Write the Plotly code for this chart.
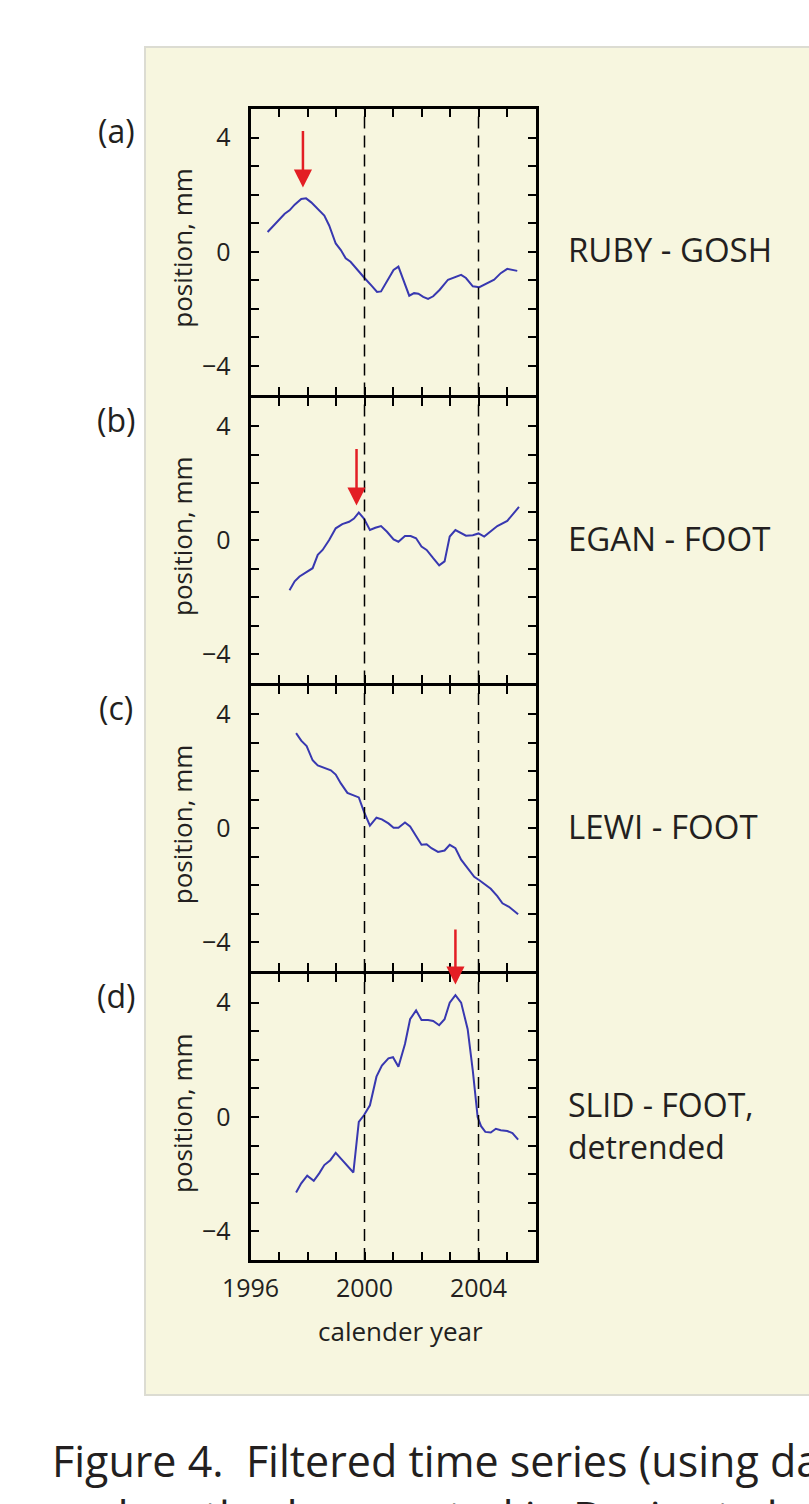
import plotly.graph_objects as go

W, H = 809, 1504

# ---------------- data ----------------
years_a = [1996.60, 1996.91, 1997.20, 1997.37, 1997.55, 1997.78, 1997.95, 1998.13, 1998.36, 1998.59,
           1998.76, 1998.99, 1999.17, 1999.34, 1999.51, 1999.75, 2000.00, 2000.27, 2000.44, 2000.58,
           2000.84, 2001.02, 2001.19, 2001.37, 2001.57, 2001.74, 2001.89, 2002.06, 2002.23, 2002.41,
           2002.64, 2002.93, 2003.16, 2003.39, 2003.56, 2003.80, 2004.03, 2004.26, 2004.55, 2004.78,
           2005.01, 2005.36]
pos_a = [0.69, 1.01, 1.33, 1.45, 1.65, 1.85, 1.87, 1.73, 1.50, 1.27,
         0.92, 0.29, 0.06, -0.23, -0.35, -0.64, -0.92, -1.21, -1.41, -1.39,
         -0.92, -0.64, -0.52, -1.04, -1.54, -1.45, -1.47, -1.58, -1.65, -1.56,
         -1.33, -0.98, -0.89, -0.81, -0.92, -1.21, -1.24, -1.12, -0.98, -0.75,
         -0.60, -0.67]

years_b = [1997.37, 1997.55, 1997.72, 1997.95, 1998.18, 1998.36, 1998.53, 1998.76, 1998.99, 1999.22,
           1999.46, 1999.63, 1999.80, 1999.98, 2000.19, 2000.38, 2000.58, 2000.79, 2001.02, 2001.19,
           2001.42, 2001.62, 2001.81, 2002.00, 2002.18, 2002.41, 2002.62, 2002.81, 2002.99, 2003.19,
           2003.39, 2003.56, 2003.80, 2004.00, 2004.20, 2004.43, 2004.66, 2005.01, 2005.42]
pos_b = [-1.76, -1.45, -1.28, -1.14, -0.99, -0.52, -0.35, 0.00, 0.41, 0.56,
         0.64, 0.75, 0.96, 0.75, 0.35, 0.43, 0.49, 0.29, 0.02, -0.06,
         0.14, 0.14, 0.06, -0.23, -0.35, -0.64, -0.89, -0.75, 0.12, 0.35,
         0.23, 0.15, 0.17, 0.23, 0.12, 0.29, 0.49, 0.67, 1.16]

years_c = [1997.60, 1997.78, 1997.97, 1998.18, 1998.36, 1998.59, 1998.82, 1998.99, 1999.17, 1999.40,
           1999.61, 1999.80, 1999.98, 2000.19, 2000.42, 2000.61, 2000.84, 2001.02, 2001.19, 2001.42,
           2001.60, 2001.81, 2002.00, 2002.18, 2002.35, 2002.58, 2002.81, 2002.99, 2003.19, 2003.39,
           2003.62, 2003.85, 2004.03, 2004.20, 2004.43, 2004.66, 2004.84, 2005.07, 2005.39]
pos_c = [3.33, 3.07, 2.88, 2.38, 2.20, 2.12, 2.03, 1.88, 1.57, 1.24,
         1.16, 1.08, 0.58, 0.09, 0.37, 0.31, 0.17, 0.02, 0.02, 0.20,
         0.06, -0.29, -0.58, -0.56, -0.70, -0.83, -0.78, -0.58, -0.70, -1.10,
         -1.39, -1.70, -1.82, -1.94, -2.12, -2.38, -2.63, -2.75, -3.01]

years_d = [1997.60, 1997.78, 1997.99, 1998.22, 1998.41, 1998.59, 1998.80, 1998.99, 1999.22, 1999.40,
           1999.61, 1999.80, 1999.98, 2000.19, 2000.42, 2000.61, 2000.84, 2001.00, 2001.19, 2001.42,
           2001.60, 2001.81, 2002.00, 2002.23, 2002.41, 2002.62, 2002.81, 2002.99, 2003.19, 2003.39,
           2003.62, 2003.80, 2003.97, 2004.09, 2004.24, 2004.43, 2004.61, 2004.78, 2005.01, 2005.19,
           2005.39]
pos_d = [-2.64, -2.32, -2.05, -2.23, -1.97, -1.68, -1.51, -1.25, -1.51, -1.70,
         -1.94, -0.17, 0.06, 0.41, 1.41, 1.80, 2.05, 2.09, 1.76, 2.55,
         3.42, 3.73, 3.39, 3.39, 3.36, 3.21, 3.42, 4.00, 4.26, 4.00,
         3.07, 1.62, 0.00, -0.32, -0.52, -0.54, -0.41, -0.46, -0.49, -0.56,
         -0.79]

series_years = [years_a, years_b, years_c, years_d]
series_pos = [pos_a, pos_b, pos_c, pos_d]

panel_tags = ["(a)", "(b)", "(c)", "(d)"]
pair_labels = ["RUBY - GOSH", "EGAN - FOOT", "LEWI - FOOT", "SLID - FOOT,<br>detrended"]
event_years = [2000, 2004]
# red arrows: panel index, year, tail value, tip value
arrow_panel = [0, 1, 3]
arrow_year = [1997.84, 1999.72, 2003.19]
arrow_tail = [4.28, 3.25, 6.61]
arrow_tip = [2.25, 1.21, 4.63]

x_ticks = [1996, 2000, 2004]
y_ticks = [-4, 0, 4]
x_title = "calender year"
y_title = "position, mm"
caption_1 = "Figure 4.  Filtered time series (using data"
caption_2 = "and method presented in Davis et al."

# ---------------- layout ----------------
FONT = "Open Sans, Noto Sans, sans-serif"
TXT = "#231f20"
BG = "#f7f6df"
LINE = "#3838b0"
LW = 3  # frame line width


def py(p):
    return 1 - p / H


def px(p):
    return p / W


x0, x1 = 249, 537
frame_lines = [107.5, 396.0, 684.0, 972.5, 1261.5]   # pixel centres of the horizontal frame lines
label_shift = [-2, -2, -2, 8]

fig = go.Figure()
layout = dict(
    width=W, height=H, autosize=False, margin=dict(l=0, r=0, t=0, b=0, pad=0),
    paper_bgcolor="white", plot_bgcolor=BG, showlegend=False,
    font=dict(family=FONT, color=TXT),
)

annotations = []
shapes = [dict(type="rect", xref="paper", yref="paper", layer="below",
               x0=px(145), x1=1.05, y0=py(1395), y1=py(47),
               fillcolor=BG, line=dict(color="#dcdcd2", width=2))]


def label(text, x, y, size, xanchor="center", yanchor="middle", angle=0, align="center"):
    return dict(text=text, xref="paper", yref="paper", x=px(x), y=py(y),
                xanchor=xanchor, yanchor=yanchor, textangle=angle, align=align,
                showarrow=False, font=dict(size=size))


for i in range(4):
    n = "" if i == 0 else str(i + 1)
    xa, ya = "x" + n, "y" + n
    fig.add_trace(go.Scatter(x=series_years[i], y=series_pos[i], mode="lines",
                             line=dict(color=LINE, width=2), xaxis=xa, yaxis=ya,
                             hoverinfo="skip"))
    common = dict(showline=True, linewidth=LW, linecolor="black", mirror="ticks",
                  ticks="inside", ticklen=8, tickwidth=1.5, tickcolor="black",
                  showgrid=False, zeroline=False, automargin=False,
                  tickfont=dict(size=25, family=FONT, color=TXT))
    top = frame_lines[i] + LW / 2
    bot = frame_lines[i + 1] - LW / 2
    layout["xaxis" + n] = dict(common, domain=[px(x0 + LW / 2), px(x1 - LW / 2)], range=[1996, 2006],
                               anchor=ya, tickvals=x_ticks, showticklabels=(i == 3),
                               ticklabelstandoff=4,
                               minor=dict(dtick=1, tick0=1996, ticks="inside", ticklen=8,
                                          tickwidth=1.5, tickcolor="black"))
    layout["yaxis" + n] = dict(common, domain=[py(bot), py(top)], range=[-5, 5],
                               anchor=xa, tickvals=y_ticks, ticklabelstandoff=12,
                               minor=dict(dtick=1, tick0=0, ticks="inside", ticklen=8,
                                          tickwidth=1.5, tickcolor="black"))
    for ev in event_years:
        shapes.append(dict(type="line", xref=xa, yref=ya + " domain", x0=ev, x1=ev, y0=0, y1=1,
                           line=dict(color="black", width=1.5, dash="12px,7px")))
    cy = (frame_lines[i] + frame_lines[i + 1]) / 2
    annotations.append(label(y_title, 182, cy - 4, 26, angle=-90))
    annotations.append(label(panel_tags[i], 116, frame_lines[i] + 23, 32))
    annotations.append(label(pair_labels[i], 566, cy + label_shift[i], 33 if i < 3 else 32,
                             xanchor="left", align="left"))

for j in range(len(arrow_panel)):
    i = arrow_panel[j]
    n = "" if i == 0 else str(i + 1)
    annotations.append(dict(x=arrow_year[j], y=arrow_tip[j], ax=arrow_year[j], ay=arrow_tail[j],
                            xref="x" + n, yref="y" + n, axref="x" + n, ayref="y" + n,
                            text="", showarrow=True, arrowhead=2, arrowsize=1.45,
                            arrowwidth=2.5, arrowcolor="#e31e24", standoff=0))

annotations.append(label(x_title, 400, 1331, 26))
annotations.append(label(caption_1, 50, 1460, 43, xanchor="left"))
annotations.append(label(caption_2, 50, 1485, 43, xanchor="left", yanchor="top"))

layout["annotations"] = annotations
layout["shapes"] = shapes
fig.update_layout(**layout)
fig.write_html("out.html")
